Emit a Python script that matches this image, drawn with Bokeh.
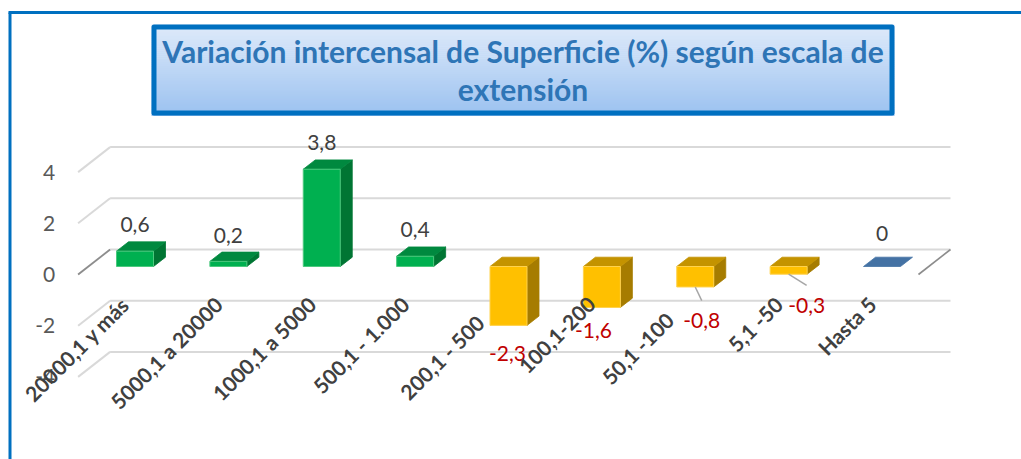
from bokeh.plotting import figure
from bokeh.models import Range1d
from bokeh.core.properties import value
from bokeh.embed import file_html
from bokeh.resources import INLINE
import math

# ---------------- data ----------------
categories = ["20000,1 y más", "5000,1 a 20000", "1000,1 a 5000", "500,1 - 1.000",
              "200,1 - 500", "100,1-200", "50,1 -100", "5,1 -50", "Hasta 5"]
variation = [0.6, 0.2, 3.8, 0.4, -2.3, -1.6, -0.8, -0.3, 0.0]
value_labels = ["0,6", "0,2", "3,8", "0,4", "-2,3", "-1,6", "-0,8", "-0,3", "0"]
y_ticks = [-4, -2, 0, 2, 4]
y_tick_labels = ["-4", "-2", "0", "2", "4"]
title_lines = ["Variación intercensal de Superficie (%) según escala de", "extensión"]

# ---------------- style / layout ----------------
W, H = 1021, 459
OFF = 0              # page offset of the canvas
KX = 93.375          # px per category
KY = 25.6            # px per unit of value
X0 = -(134.5 - OFF) / KX
Y1 = (266 - OFF) / KY
n = len(categories)

# label fine placement (px): dx right, dy down
label_nudge = [(0, 0), (0, 0), (0, 0), (0, 0), (-1, 0), (-8.5, -5), (6.5, 5.6), (18, 3.3), (0, -6.7)]
label_leader = [False, False, False, False, False, False, True, True, False]
cat_pad = [0, 0, 0, 0, 26, 0, 22, 0, 0]   # px of trailing padding of category labels

FONT = value("Lato")
GRID = "#D9D9D9"


def px_x(px):      # page x -> data x (layout helpers only)
    return X0 + (px - OFF) / KX


def px_y(py):      # page y -> data y
    return Y1 - (py - OFF) / KY


BAR_W = 37 / KX
DEPTH = (12 / KX, 9.3 / KY)
BACK = (21.8 / KX, 17 / KY)
FRONT = (-10.2 / KX, -8 / KY)

p = figure(width=W, height=H, x_range=Range1d(X0, X0 + W / KX),
           y_range=Range1d(Y1 - H / KY, Y1), x_axis_type=None, y_axis_type=None,
           toolbar_location=None, output_backend="svg", min_border=0, title=None)
p.outline_line_color = None
p.background_fill_color = "white"
p.border_fill_color = "white"

# outer chart frame (left and top edges visible)
p.segment(x0=[px_x(9.5), px_x(8)], y0=[px_y(12), px_y(12)],
          x1=[px_x(9.5), px_x(1030)], y1=[px_y(470), px_y(12)],
          line_color="#0070C0", line_width=3)

# ---------------- title box with gradient ----------------
tl, tr, tt, tb = 151, 894, 24, 115
N = 46
c_top = (222, 234, 250)
c_bot = (156, 194, 240)
lefts, rights, tops, bots, cols = [], [], [], [], []
for k in range(N):
    f = k / (N - 1)
    c = tuple(int(round(a + (b - a) * f)) for a, b in zip(c_top, c_bot))
    y_a = tt + (tb - tt) * k / N
    y_b = tt + (tb - tt) * (k + 1) / N
    lefts.append(px_x(tl)); rights.append(px_x(tr))
    tops.append(px_y(y_a)); bots.append(px_y(y_b + 0.6))
    cols.append("#%02x%02x%02x" % c)
p.quad(left=lefts, right=rights, top=tops, bottom=bots, fill_color=cols, line_color=None)
p.quad(left=[px_x(tl + 2.5)], right=[px_x(tr - 2.5)], top=[px_y(tt + 2.5)], bottom=[px_y(tb - 2.5)],
       fill_color=None, line_color="#0070C0", line_width=5, line_join="round")
p.text(x=[px_x((tl + tr) / 2)] * 2, y=[px_y(50), px_y(88)], text=title_lines,
       text_font=FONT, text_font_style="bold", text_font_size="30px",
       text_color="#2E75B6", text_align="center", text_baseline="middle")

# ---------------- walls / gridlines ----------------
xl_b, xr_b = -0.5 + BACK[0], n - 0.5 + BACK[0]
xl_f, xr_f = -0.5 + FRONT[0], n - 0.5 + FRONT[0]
gx0, gy0, gx1, gy1 = [], [], [], []
for v in y_ticks:
    gx0 += [xl_b, xl_f]; gy0 += [v + BACK[1], v + FRONT[1]]
    gx1 += [xr_b, xl_b]; gy1 += [v + BACK[1], v + BACK[1]]
p.segment(x0=gx0, y0=gy0, x1=gx1, y1=gy1, line_color=GRID, line_width=2)
# floor edges at zero
p.segment(x0=[xl_f, xr_f], y0=[FRONT[1], FRONT[1]], x1=[xl_b, xr_b], y1=[BACK[1], BACK[1]],
          line_color="#8C8C8C", line_width=1.6)

# y tick labels on the front plane
p.text(x=[xl_f - 23 / KX] * len(y_ticks), y=[v + FRONT[1] for v in y_ticks], text=y_tick_labels,
       text_font=FONT, text_font_size="21px", text_color="#595959",
       text_align="right", text_baseline="middle")

# ---------------- 3D bars ----------------
pal = {
    "pos": ("#00B050", "#00893F", "#007533", "#4CC97E"),
    "neg": ("#FFC000", "#C49300", "#A67C00", "#FFD24D"),
    "zero": ("#4472A4", "#4472A4", "#36608C", "#6E93BF"),
}
front_xs, front_ys, front_c, front_l = [], [], [], []
top_xs, top_ys, top_c = [], [], []
side_xs, side_ys, side_c = [], [], []
for i, v in enumerate(variation):
    key = "pos" if v > 0 else ("neg" if v < 0 else "zero")
    cf, ct, cs, cl = pal[key]
    a, b = i - BAR_W / 2, i + BAR_W / 2
    lo, hi = min(0, v), max(0, v)
    dx, dy = DEPTH
    top_xs.append([a, b, b + dx, a + dx]); top_ys.append([hi, hi, hi + dy, hi + dy]); top_c.append(ct)
    if v != 0:
        front_xs.append([a, b, b, a]); front_ys.append([lo, lo, hi, hi]); front_c.append(cf); front_l.append(cl)
        side_xs.append([b, b, b + dx, b + dx]); side_ys.append([lo, hi, hi + dy, lo + dy]); side_c.append(cs)

p.patches(xs=side_xs, ys=side_ys, fill_color=side_c, line_color=side_c, line_width=0.8)
p.patches(xs=top_xs, ys=top_ys, fill_color=top_c, line_color=top_c, line_width=0.8)
p.patches(xs=front_xs, ys=front_ys, fill_color=front_c, line_color=front_l, line_width=1)

# ---------------- data labels ----------------
lx, ly, lc = [], [], []
lead_x0, lead_y0, lead_x1, lead_y1 = [], [], [], []
for i, v in enumerate(variation):
    ndx, ndy = label_nudge[i]
    x = i + ndx / KX
    if v >= 0:
        y = v + DEPTH[1] + 17 / KY - ndy / KY
        lc.append("#404040")
    else:
        y = v - 28 / KY - ndy / KY
        lc.append("#C00000")
    lx.append(x); ly.append(y)
    if label_leader[i]:
        lead_x0.append(i); lead_y0.append(v)
        lead_x1.append(x); lead_y1.append(y + 20 / KY)
p.segment(x0=lead_x0, y0=lead_y0, x1=lead_x1, y1=lead_y1, line_color="#A6A6A6", line_width=1.5)
p.text(x=lx, y=ly, text=value_labels, text_color=lc, text_font=FONT, text_font_size="21px",
       text_align="center", text_baseline="middle")

# ---------------- category labels (rotated) ----------------
c45 = math.cos(math.pi / 4)
cx = [i - (10 + cat_pad[i] * c45) / KX for i in range(n)]
cy = [-(34 + cat_pad[i] * c45) / KY for i in range(n)]
p.text(x=cx, y=cy, text=categories, angle=math.pi / 4, text_font=FONT,
       text_font_style="bold", text_font_size="21px", text_color="#404040",
       text_align="right", text_baseline="middle")

open("out.html", "w").write(file_html(p, INLINE))
